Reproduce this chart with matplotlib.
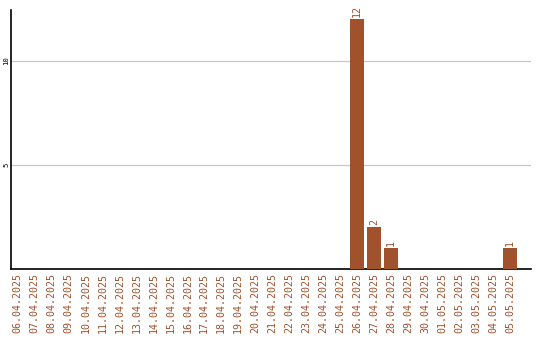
import matplotlib
matplotlib.use("Agg")
import matplotlib.pyplot as plt

dates = ["06.04.2025", "07.04.2025", "08.04.2025", "09.04.2025", "10.04.2025",
         "11.04.2025", "12.04.2025", "13.04.2025", "14.04.2025", "15.04.2025",
         "16.04.2025", "17.04.2025", "18.04.2025", "19.04.2025", "20.04.2025",
         "21.04.2025", "22.04.2025", "23.04.2025", "24.04.2025", "25.04.2025",
         "26.04.2025", "27.04.2025", "28.04.2025", "29.04.2025", "30.04.2025",
         "01.05.2025", "02.05.2025", "03.05.2025", "04.05.2025", "05.05.2025"]
counts = [0, 0, 0, 0, 0, 0, 0, 0, 0, 0,
          0, 0, 0, 0, 0, 0, 0, 0, 0, 0,
          12, 2, 1, 0, 0, 0, 0, 0, 0, 1]
y_ticks = [5, 10]

bar_color = "#A0522D"
label_color = "#A0522D"
mono = "DejaVu Sans Mono"

fig = plt.figure(figsize=(5.4, 3.4), dpi=100)
ax = fig.add_axes([10.5 / 540, 71 / 340, 520.5 / 540, 259 / 340])

x = list(range(len(dates)))
ax.bar(x, counts, width=0.82, color=bar_color, zorder=3)

for xi, v in zip(x, counts):
    if v > 0:
        ax.text(xi, v + 0.12, str(v), rotation=90, ha="center", va="bottom",
                color=label_color, fontsize=7.2, family=mono)

ax.set_xlim(-0.41, 30.24)
ax.set_ylim(0, 12.45)
ax.set_yticks(y_ticks)
ax.set_yticklabels([str(t) for t in y_ticks], rotation=90, va="center",
                   fontsize=5.2, family=mono)
ax.set_xticks(x)
ax.set_xticklabels(dates, rotation=90, fontsize=7.2, family=mono, color=label_color)
ax.tick_params(axis="x", length=0, pad=3)
ax.tick_params(axis="y", length=0, pad=1)

ax.grid(axis="y", color="#c8c8c8", linewidth=0.9, zorder=0)
for s in ("top", "right"):
    ax.spines[s].set_visible(False)
ax.spines["left"].set_color("black")
ax.spines["bottom"].set_color("black")
ax.spines["left"].set_linewidth(1.2)
ax.spines["bottom"].set_linewidth(1.2)

fig.savefig("out.png", dpi=100, facecolor="white")
